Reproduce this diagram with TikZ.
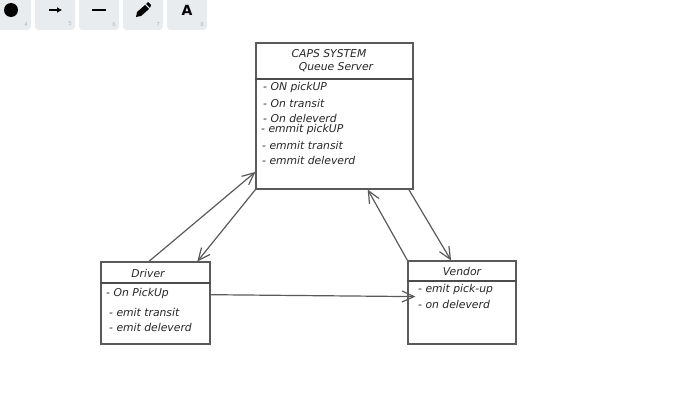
\documentclass[tikz,border=0pt]{standalone}
\usepackage{fontspec}
\setmainfont{DejaVu Sans}
\usetikzlibrary{calc,arrows.meta}
\definecolor{inkline}{HTML}{5A5A5A}
\definecolor{inktext}{HTML}{262626}
\definecolor{btnfill}{HTML}{E9ECEF}
\definecolor{btnnum}{HTML}{B4B8BD}
\tikzset{
  umlbox/.style={draw=inkline,line width=1.1pt,inner sep=0pt,
    preaction={draw=inkline!55,line width=.9pt,transform canvas={shift={(.9pt,-.9pt)}}}},
  label/.style={anchor=west,inner sep=0pt,text=inktext,font=\itshape\fontsize{10.8}{12}\selectfont},
  head/.style={inner sep=0pt,text=inktext,font=\itshape\fontsize{10.8}{12}\selectfont},
  link/.style={draw=inkline,line width=1.2pt,-{Straight Barb[length=12pt,width=11pt,line width=1.2pt]}},
  divider/.style={draw=inkline!85!black,line width=1.6pt},
  toolbtn/.style={fill=btnfill,rounded corners=3.5pt,inner sep=0pt,minimum width=40pt,minimum height=36pt},
  toolnum/.style={inner sep=0pt,text=btnnum,font=\fontsize{5.5}{6}\selectfont}
}
\begin{document}
\begin{tikzpicture}[x=1pt,y=-1pt]
\useasboundingbox (0,0) rectangle (683,404);
% toolbar
\foreach \bx/\bnum in {11/4,55/5,99/6,143/7,187/8}{
  \node[toolbtn] (btn\bnum) at (\bx,12) {};
  \node[toolnum] (num\bnum) at (\bx+15,24) {\bnum};
}
\fill[black] (btn4.center) ++(0,-2) circle (7);
\draw[black,line width=1.5pt,-{Latex[length=5pt,width=6pt]}] (49,10) -- (62,10);
\draw[black,line width=2pt] (92,10) -- (106,10);
\fill[black] (136,17) -- (137,12) -- (145,5) -- (149,9) -- (141,16) -- cycle;
\fill[black] (146,4) -- (148,2) -- (151,5) -- (150,8) -- cycle;
\node[inner sep=0pt,font=\bfseries\fontsize{14}{16}\selectfont] (btnA) at (187,10) {A};
% boxes
\node[umlbox,minimum width=157pt,minimum height=146pt] (queue) at (334.5,116) {};
\node[umlbox,minimum width=109pt,minimum height=82pt] (driver) at (155.5,303) {};
\node[umlbox,minimum width=108pt,minimum height=83pt] (vendor) at (462,302.5) {};
\draw[divider] ($(queue.north west) !.247! (queue.south west)$) -- ($(queue.north east) !.247! (queue.south east)$);
\draw[divider] ($(driver.north west) !.256! (driver.south west)$) -- ($(driver.north east) !.256! (driver.south east)$);
\draw[divider] ($(vendor.north west) !.241! (vendor.south west)$) -- ($(vendor.north east) !.241! (vendor.south east)$);
% texts
\node[head] (queuetitle) at (329,54) {CAPS SYSTEM};
\node[head] (queuename) at (336,67) {Queue Server};
\node[label] (qa) at (263,88) {- ON pickUP};
\node[label] (qb) at (263,103) {- On transit};
\node[label] (qc) at (263,118) {- On deleverd};
\node[label] (qd) at (261,130) {- emmit pickUP};
\node[label] (qe) at (262,145) {- emmit transit};
\node[label] (qf) at (262,160) {- emmit deleverd};
\node[head] (drivertitle) at (148,273) {Driver};
\node[label] (da) at (106,294) {- On PickUp};
\node[label] (db) at (109,312) {- emit transit};
\node[label] (dc) at (109,327) {- emit deleverd};
\node[head] (vendortitle) at (462,271) {Vendor};
\node[label] (va) at (418,290) {- emit pick-up};
\node[label] (vb) at (418,304) {- on deleverd};
% links
\draw[link] ($(driver.north west) !.44! (driver.north east)$) -- ($(queue.south west) !.12! (queue.north west)$);
\draw[link] (queue.south west) -- ($(driver.north west) !.88! (driver.north east)$);
\draw[link] ($(queue.south east) !.03! (queue.south west)$) -- ($(vendor.north west) !.40! (vendor.north east)$);
\draw[link] (vendor.north west) -- ($(queue.south east) !.29! (queue.south west)$);
\draw[link] ($(driver.north east) !.40! (driver.south east)$) -- ($($(vendor.north west) !.43! (vendor.south west)$) + (8,0)$);
\end{tikzpicture}
\end{document}
